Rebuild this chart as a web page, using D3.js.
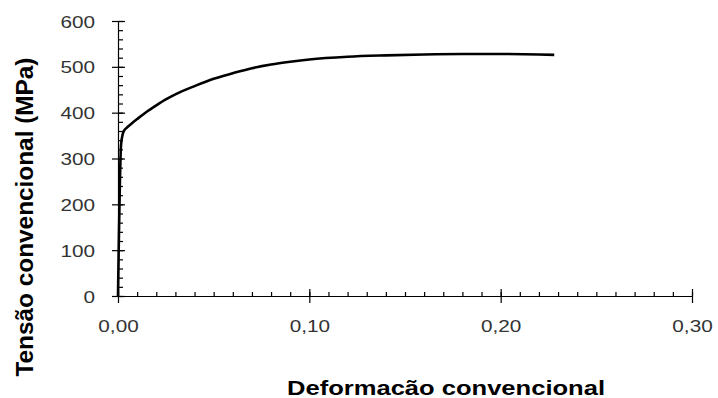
<!DOCTYPE html>
<html>
<head>
<meta charset="UTF-8">
<script src="https://d3js.org/d3.v7.min.js"></script>
<style>
  body { margin: 0; background: #fff; }
  svg { font-family: "Liberation Sans", Arial, sans-serif; }
  .tick text { fill: #333; font-size: 17px; }
  .title { font-weight: bold; fill: #000; }
</style>
</head>
<body>
<svg id="chart" width="718" height="398"></svg>
<script>
// strain (deformação) and stress (tensão, MPa)
var strain = [0, 0.0016, 0.0024, 0.0032, 0.0045, 0.007, 0.01, 0.015, 0.02, 0.025, 0.03, 0.04, 0.05,
              0.06, 0.07, 0.08, 0.09, 0.10, 0.12, 0.14, 0.16, 0.18, 0.20, 0.22, 0.228];
var stress = [0, 330, 352, 361, 367, 376, 386, 402, 416, 429, 440, 458, 474,
              486, 497, 505, 511, 516, 522, 525, 527, 528, 528, 527, 526];
var xTicks = [0, 0.1, 0.2, 0.3];
var yTicks = [0, 100, 200, 300, 400, 500, 600];
var xTitle = "Deformacão convencional";
var yTitle = "Tensão convencional (MPa)";

var svg = d3.select("#chart");
var x = d3.scaleLinear().domain([0, 0.3]).range([118, 692]);
var y = d3.scaleLinear().domain([0, 600]).range([296, 21]);

// minor ticks
var xMinor = d3.range(0, 0.3001, 0.01);
var yMinor = d3.range(0, 601, 20);

var gxm = svg.append("g").attr("transform", "translate(0,296)")
  .call(d3.axisTop(x).tickValues(xMinor).tickSize(4).tickFormat(""));
gxm.select(".domain").remove();

var gym = svg.append("g").attr("transform", "translate(118,0)")
  .call(d3.axisRight(y).tickValues(yMinor).tickSize(5).tickFormat(""));
gym.select(".domain").remove();

// major axes
var fmt = function(d) { return d3.format(".2f")(d).replace(".", ","); };
var gx = svg.append("g").attr("transform", "translate(0,296)")
  .call(d3.axisBottom(x).tickValues(xTicks).tickSize(7).tickSizeOuter(0).tickFormat(fmt));
gx.selectAll(".tick line").attr("y1", -7);
gx.selectAll(".tick text").attr("y", 36).attr("dy", 0);

var gy = svg.append("g").attr("transform", "translate(118,0)")
  .call(d3.axisLeft(y).tickValues(yTicks).tickSize(6).tickSizeOuter(0));
gy.selectAll(".tick line").attr("x1", 7);
gy.selectAll(".tick text").attr("x", -23).attr("dy", "0.36em");

svg.selectAll(".domain, .tick line").attr("stroke", "#000").attr("stroke-width", 1.2);
svg.selectAll(".tick text").attr("font-family", null).attr("font-size", null);

// widen tick labels like the original
svg.selectAll(".tick text").each(function() {
  var w = this.getComputedTextLength();
  if (w > 0) d3.select(this).attr("textLength", w * 1.22).attr("lengthAdjust", "spacingAndGlyphs");
});

// curve
var pts = strain.map(function(d, i) { return [d, stress[i]]; });
svg.append("path")
  .datum(pts)
  .attr("fill", "none")
  .attr("stroke", "#000")
  .attr("stroke-width", 2.6)
  .attr("stroke-linejoin", "round")
  .attr("d", d3.line().x(function(d) { return x(d[0]); }).y(function(d) { return y(d[1]); })
    .curve(d3.curveMonotoneX));

// titles
svg.append("text").attr("class", "title")
  .attr("x", 446).attr("y", 395).attr("text-anchor", "middle")
  .attr("font-size", 21).attr("textLength", 318).attr("lengthAdjust", "spacingAndGlyphs")
  .text(xTitle);

svg.append("text").attr("class", "title")
  .attr("transform", "translate(33,217) rotate(-90)")
  .attr("text-anchor", "middle")
  .attr("font-size", 23).attr("textLength", 319).attr("lengthAdjust", "spacingAndGlyphs")
  .text(yTitle);
</script>
</body>
</html>
